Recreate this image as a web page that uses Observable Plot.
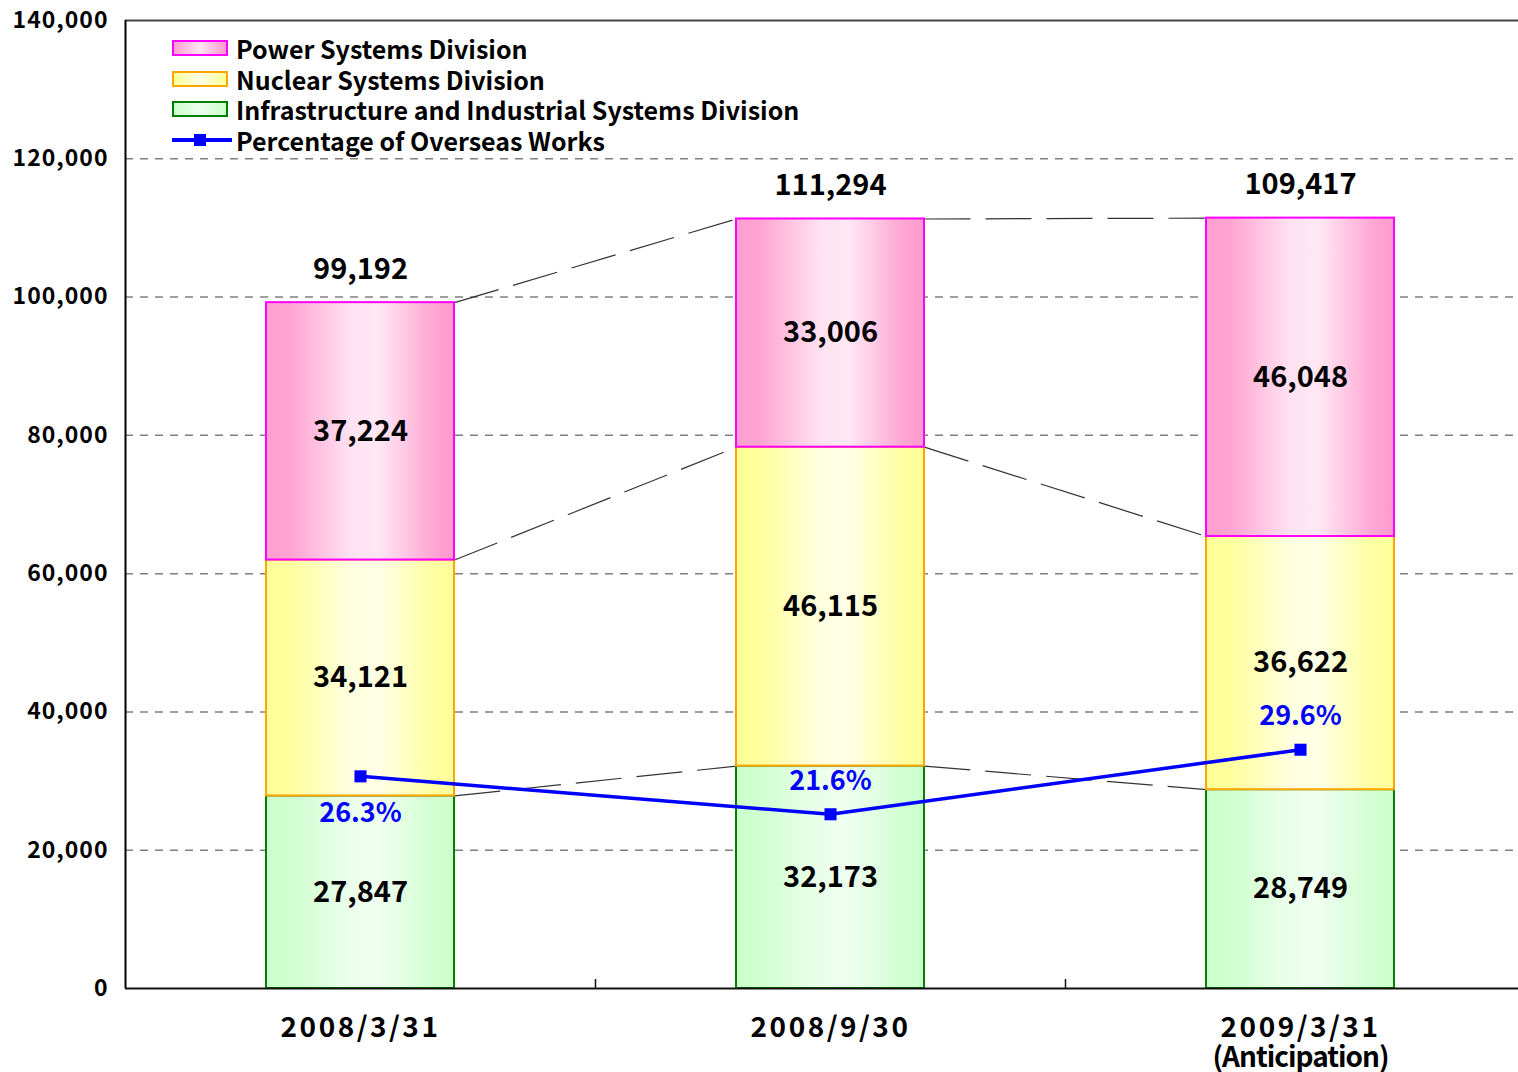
<!DOCTYPE html>
<html>
<head>
<meta charset="utf-8">
<script src="https://cdn.jsdelivr.net/npm/d3@7"></script>
<script src="https://cdn.jsdelivr.net/npm/@observablehq/plot@0.6"></script>
<style>
  html, body { margin: 0; padding: 0; background: #fff; overflow: hidden; }
  #wrap { position: relative; width: 1518px; height: 1072px; font-family: "Noto Sans CJK JP", "Noto Sans", sans-serif; }
  #legend { position: absolute; left: 172px; top: 33px; font-weight: bold; font-size: 25px; color: #000; }
  .row { display: flex; align-items: center; height: 30.5px; line-height: 30px; }
  .sw { width: 52px; height: 12px; border: 2px solid; margin-right: 8px; box-sizing: content-box; }
  .ln { position: relative; width: 60px; height: 14px; margin-right: 4px; }
  .ln::before { content: ""; position: absolute; left: 0; right: 0; top: 5.5px; height: 3.5px; background: #0000ff; }
  .ln::after { content: ""; position: absolute; left: 22px; top: 1px; width: 12px; height: 12px; background: #0000ff; }
</style>
</head>
<body>
<svg width="0" height="0" style="position:absolute">
  <defs>
    <linearGradient id="gPink" x1="0" x2="1" y1="0" y2="0">
      <stop offset="0" stop-color="#ff9fcf"/>
      <stop offset="0.12" stop-color="#ffa3d1"/>
      <stop offset="0.45" stop-color="#ffe2f1"/>
      <stop offset="0.6" stop-color="#ffe8f4"/>
      <stop offset="0.88" stop-color="#ffa8d4"/>
      <stop offset="1" stop-color="#ff99cc"/>
    </linearGradient>
    <linearGradient id="gYellow" x1="0" x2="1" y1="0" y2="0">
      <stop offset="0" stop-color="#ffff99"/>
      <stop offset="0.12" stop-color="#ffff9c"/>
      <stop offset="0.45" stop-color="#ffffdf"/>
      <stop offset="0.6" stop-color="#ffffe6"/>
      <stop offset="0.88" stop-color="#ffffa3"/>
      <stop offset="1" stop-color="#ffff99"/>
    </linearGradient>
    <linearGradient id="gGreen" x1="0" x2="1" y1="0" y2="0">
      <stop offset="0" stop-color="#ccffcc"/>
      <stop offset="0.12" stop-color="#cfffcf"/>
      <stop offset="0.45" stop-color="#ebffeb"/>
      <stop offset="0.6" stop-color="#effff0"/>
      <stop offset="0.88" stop-color="#d2ffd2"/>
      <stop offset="1" stop-color="#ccffcc"/>
    </linearGradient>
  </defs>
</svg>
<div id="wrap">
  <div id="legend"></div>
</div>
<script>
// ---- data ----
const categories = ["2008/3/31", "2008/9/30", "2009/3/31\n(Anticipation)"];
const infrastructure = [27847, 32173, 28749];
const nuclear = [34121, 46115, 36622];
const power = [37224, 33006, 46048];
const totalLabels = [99192, 111294, 109417];
const overseasPct = [26.3, 21.6, 29.6];
const yTicks = [0, 20000, 40000, 60000, 80000, 100000, 120000, 140000];
const seriesNames = ["Power Systems Division", "Nuclear Systems Division", "Infrastructure and Industrial Systems Division", "Percentage of Overseas Works"];
const pctAxisMax = 120; // secondary axis: 0–120 %  <->  0–140,000

// ---- derived tables ----
const seriesDefs = [
  {name: seriesNames[2], values: infrastructure, fill: "url(#gGreen)", stroke: "#008000"},
  {name: seriesNames[1], values: nuclear, fill: "url(#gYellow)", stroke: "#ffa500"},
  {name: seriesNames[0], values: power, fill: "url(#gPink)", stroke: "#ff00ff"}
];
const half = 0.2;
const cum = categories.map(() => 0);
const segs = [];
const links = [];
for (const s of seriesDefs) {
  const rows = categories.map((c, i) => {
    const y1 = cum[i], y2 = cum[i] + s.values[i];
    cum[i] = y2;
    return {i, y1, y2, value: s.values[i], series: s.name};
  });
  segs.push({def: s, rows});
  for (let i = 0; i < rows.length - 1; i++) {
    links.push({x1: i + half, x2: i + 1 - half, y1: rows[i].y2, y2: rows[i + 1].y2});
  }
}
const totals = categories.map((c, i) => ({i, top: cum[i], label: totalLabels[i]}));
const pctRows = overseasPct.map((p, i) => ({i, pct: p, y: p / pctAxisMax * yTicks[yTicks.length - 1]}));
const fmt = d3.format(",");

const font = "'Noto Sans CJK JP', 'Noto Sans', sans-serif";

const marks = [
  Plot.gridY(yTicks.slice(1, -1), {stroke: "#808080", strokeOpacity: 1, strokeWidth: 1.5, strokeDasharray: "8,7"}),
  Plot.ruleY([yTicks[yTicks.length - 1]], {stroke: "#444", strokeWidth: 2}),
  Plot.link(links, {x1: "x1", x2: "x2", y1: "y1", y2: "y2", stroke: "#333", strokeWidth: 1.2, strokeDasharray: "46,15"})
];
for (const {def, rows} of segs) {
  marks.push(Plot.rectY(rows, {x1: d => d.i - half, x2: d => d.i + half, y1: "y1", y2: "y2", fill: def.fill, stroke: def.stroke, strokeWidth: 2}));
}
for (const {rows} of segs) {
  marks.push(Plot.text(rows, {x: "i", y: d => (d.y1 + d.y2) / 2, text: d => fmt(d.value), fontSize: 29, fontWeight: "bold", fill: "#000"}));
}
marks.push(
  Plot.text(totals, {x: "i", y: "top", text: d => fmt(d.label), dy: -33, fontSize: 29, fontWeight: "bold", fill: "#000"}),
  Plot.line(pctRows, {x: "i", y: "y", stroke: "#0000ff", strokeWidth: 3.5}),
  Plot.dot(pctRows, {x: "i", y: "y", symbol: "square", r: 6.8, fill: "#0000ff", stroke: "none"}),
  Plot.text(pctRows.filter(d => d.i === 0), {x: "i", y: "y", text: d => d.pct.toFixed(1) + "%", dy: 37, fontSize: 27, fontWeight: "bold", fill: "#0000ff"}),
  Plot.text(pctRows.filter(d => d.i !== 0), {x: "i", y: "y", text: d => d.pct.toFixed(1) + "%", dy: -33, fontSize: 27, fontWeight: "bold", fill: "#0000ff"}),
  Plot.ruleX([-0.5], {stroke: "#000", strokeWidth: 2}),
  Plot.ruleY([0], {stroke: "#111", strokeWidth: 2}),
  Plot.ruleX([0.5, 1.5], {stroke: "#111", strokeWidth: 1.5, insetTop: 959}),
  Plot.axisY(yTicks, {tickFormat: fmt, tickSize: 0, tickPadding: 18, fontSize: 23, fontWeight: "bold", fill: "#000"}),
  Plot.axisX([0, 1, 2], {tickFormat: i => categories[i], tickSize: 0, tickPadding: 27, fontSize: 28, fontWeight: "bold", fill: "#000", lineHeight: 1.08})
);

const chart = Plot.plot({
  width: 1518,
  height: 1072,
  marginLeft: 125,
  marginRight: 0,
  marginTop: 20,
  marginBottom: 84,
  style: {fontFamily: font, background: "white", color: "#000"},
  x: {type: "linear", domain: [-0.5, 2.5], range: [125, 1535], axis: null},
  y: {domain: [0, 140000], axis: null},
  marks
});
// letter spacing to mimic the wider Japanese gothic glyphs
d3.select(chart).selectAll("[aria-label='y-axis tick label'] text").attr("letter-spacing", "1px").attr("dx", "1px");
d3.select(chart).selectAll("[aria-label='x-axis tick label'] text").attr("letter-spacing", "2.5px");
d3.select(chart).selectAll("[aria-label='x-axis tick label'] text tspan:nth-child(2)").attr("letter-spacing", "-1px");
document.getElementById("wrap").prepend(chart);

// ---- legend ----
const legendItems = [
  {name: seriesNames[0], fill: "url(#gPink)", stroke: "#ff00ff"},
  {name: seriesNames[1], fill: "url(#gYellow)", stroke: "#ffa500"},
  {name: seriesNames[2], fill: "url(#gGreen)", stroke: "#008000"}
];
const lg = d3.select("#legend");
const gradCss = {
  "url(#gPink)": "linear-gradient(to right,#ff9fcf,#ffe6f3 50%,#ff99cc)",
  "url(#gYellow)": "linear-gradient(to right,#ffff99,#ffffe4 50%,#ffff99)",
  "url(#gGreen)": "linear-gradient(to right,#ccffcc,#eeffee 50%,#ccffcc)"
};
for (const it of legendItems) {
  const r = lg.append("div").attr("class", "row");
  r.append("div").attr("class", "sw").style("border-color", it.stroke).style("background", gradCss[it.fill]);
  r.append("span").text(it.name);
}
const r4 = lg.append("div").attr("class", "row");
r4.append("div").attr("class", "ln");
r4.append("span").text(seriesNames[3]);
</script>
</body>
</html>
